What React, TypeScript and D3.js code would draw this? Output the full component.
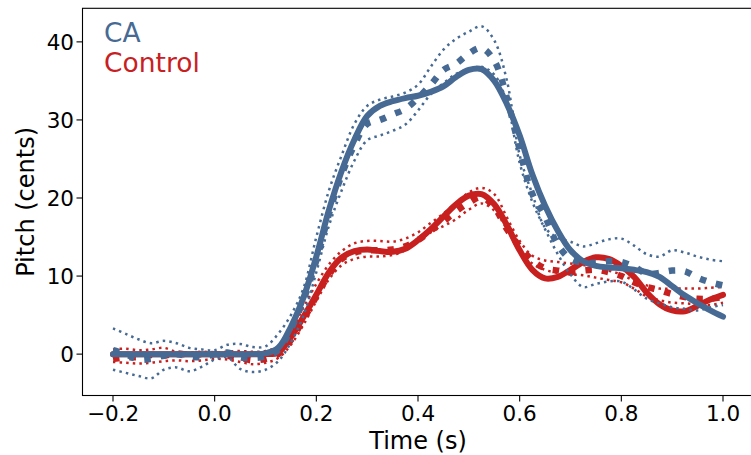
import React from "react";
import * as d3 from "d3";

const times = [
  -0.2, -0.175, -0.15, -0.125, -0.1, -0.075, -0.05, -0.025, 0, 0.025, 0.05, 0.075, 0.1, 0.125,
  0.15, 0.175, 0.2, 0.225, 0.25, 0.275, 0.3, 0.325, 0.35, 0.375, 0.4, 0.425, 0.45, 0.475, 0.5,
  0.525, 0.55, 0.575, 0.6, 0.625, 0.65, 0.675, 0.7, 0.725, 0.75, 0.775, 0.8, 0.825, 0.85, 0.875,
  0.9, 0.925, 0.95, 0.975, 1.0,
];

const caMean = [
  0, 0, 0, 0, 0, 0, 0, 0, 0, 0, 0, 0, 0.1, 0.8,
  3.5, 7.3, 12.5, 18.5, 23.5, 27.5, 30.5, 31.8, 32.4, 32.8, 33.1, 33.6, 34.3, 35.5, 36.4,
  36.5, 35.0, 32.0, 28.0, 23.0, 19.0, 15.8, 13.3, 11.9, 11.3, 11.1, 11.0, 10.8, 10.5, 9.9,
  8.7, 7.5, 6.5, 5.6, 4.8,
];

const caAlt = [
  0.5, 0, -0.7, -0.6, -0.2, 0, -0.3, -0.4, 0, 0.2, -0.4, -0.5, -0.3, 0.5,
  3.2, 7.0, 12.0, 18.0, 23.0, 26.8, 29.5, 30.0, 30.7, 31.4, 32.8, 34.5, 36.4, 37.2, 38.5,
  39.2, 37.6, 32.8, 26.2, 20.5, 17.6, 14.0, 12.2, 11.7, 11.7, 11.9, 11.8, 11.2, 10.3, 10.4,
  10.7, 10.6, 9.8, 9.2, 8.8,
];

const caHi = [
  3.3, 2.6, 1.9, 1.4, 1.7, 1.4, 0.8, 0.6, 0.5, 1.2, 1.3, 0.9, 1.0, 2.6,
  5.0, 8.5, 15.0, 21.0, 25.5, 29.5, 31.8, 32.6, 33.0, 33.5, 34.5, 36.8, 39.0, 40.4, 41.3,
  42.0, 40.2, 35.0, 25.5, 20.5, 16.2, 14.9, 14.4, 13.8, 14.2, 14.7, 14.8, 13.9, 12.8, 12.5,
  13.3, 13.0, 12.5, 12.1, 11.9,
];

const caLo = [
  -2.0, -2.4, -2.8, -3.1, -2.0, -1.7, -2.2, -1.6, -0.7, -0.4, -1.9, -2.3, -2.0, -0.9,
  1.5, 5.0, 10.5, 16.5, 21.0, 24.8, 27.4, 28.0, 28.6, 29.4, 31.2, 33.3, 34.7, 35.9, 36.5,
  36.8, 35.8, 32.2, 24.5, 19.5, 16.0, 12.8, 10.2, 8.6, 9.0, 9.3, 9.3, 8.3, 7.1, 6.5,
  6.0, 5.8, 5.6, 6.0, 6.3,
];

const ctrlMean = [
  0, 0, 0, 0, 0, 0, 0, 0, 0, 0, 0, 0, 0, 0.2,
  2.2, 4.8, 7.6, 10.5, 12.4, 13.2, 13.4, 13.2, 13.1, 13.5, 14.6, 16.0, 17.6, 19.2, 20.3,
  20.5, 19.2, 16.5, 13.3, 10.8, 9.7, 9.9, 10.8, 11.8, 12.4, 12.2, 11.3, 9.9, 7.9, 6.4,
  5.6, 5.5, 6.2, 7.0, 7.6,
];

const ctrlAlt = [
  -0.6, -0.4, -0.4, -0.1, -0.2, 0.1, -0.1, 0, 0, -0.2, -0.5, -0.8, -0.6, 0.0,
  1.8, 4.5, 7.4, 10.2, 12.2, 13.0, 13.3, 13.3, 13.4, 13.8, 14.6, 15.8, 17.0, 18.3, 19.4,
  20.1, 18.8, 16.0, 13.8, 12.0, 11.0, 10.7, 10.5, 10.7, 10.8, 10.5, 10.0, 9.2, 8.6, 8.2,
  7.7, 7.3, 7.1, 7.1, 7.3,
];

const ctrlHi = [
  0.6, 0.7, 0.5, 0.6, 0.8, 0.3, 0.2, 0.3, 0.2, 0.3, 0.4, 0.3, 0.4, 1.0,
  3.0, 6.0, 9.0, 11.5, 13.2, 14.2, 14.5, 14.5, 14.4, 14.8, 15.6, 16.8, 18.0, 19.4, 20.7,
  21.3, 20.5, 17.5, 14.5, 12.6, 12.0, 11.8, 11.6, 11.4, 11.2, 10.7, 10.2, 9.4, 8.8, 8.4,
  8.4, 8.4, 8.4, 8.5, 8.6,
];

const ctrlLo = [
  -1.0, -1.1, -1.2, -1.1, -0.9, -0.8, -0.9, -0.8, -0.6, -0.7, -1.0, -1.3, -1.1, -0.5,
  1.2, 3.8, 6.8, 9.6, 11.4, 12.2, 12.5, 12.5, 12.7, 13.3, 14.4, 15.6, 16.4, 17.3, 18.5,
  19.3, 18.4, 16.0, 13.2, 11.6, 10.8, 10.4, 10.2, 10.1, 9.8, 9.5, 9.2, 8.4, 7.4, 6.9,
  6.6, 6.5, 6.4, 6.3, 6.6,
];

const xTicks = [-0.2, 0.0, 0.2, 0.4, 0.6, 0.8, 1.0];
const yTicks = [0, 10, 20, 30, 40];
const legendLabels = ["CA", "Control"];

const BLUE = "#466a93";
const RED = "#c8201f";
const FONT = "DejaVu Sans, sans-serif";

const W = 751;
const H = 455;
const L = 82.5;
const R = 753.5;
const T = 8.3;
const B = 395.5;

export default function App() {
  const x = d3.scaleLinear().domain([-0.26, 1.06]).range([L, R]);
  const y = d3.scaleLinear().domain([-5.3, 44.3]).range([B, T]);

  const line = d3
    .line<number>()
    .x((_, i) => x(times[i]))
    .y((d) => y(d))
    .curve(d3.curveCatmullRom.alpha(0.5));

  const groups = [
    { color: RED, mean: ctrlMean, alt: ctrlAlt, hi: ctrlHi, lo: ctrlLo },
    { color: BLUE, mean: caMean, alt: caAlt, hi: caHi, lo: caLo },
  ];

  const fmt = (v: number) => (v < 0 ? "\u2212" + Math.abs(v).toFixed(1) : v.toFixed(1));

  return (
    <svg
      width={W}
      height={H}
      style={{ position: "absolute", left: 0, top: 0, background: "#fff" }}
      fontFamily={FONT}
    >
      <rect x={0} y={0} width={W} height={H} fill="#fff" />
      <defs>
        <clipPath id="plotclip">
          <rect x={L} y={T} width={R - L} height={B - T} />
        </clipPath>
      </defs>
      <g clipPath="url(#plotclip)">
        {groups.map((g, gi) => (
          <g key={gi}>
            <path d={line(g.lo) || ""} fill="none" stroke={g.color} strokeWidth={2.5} strokeDasharray="2.5,4.1" />
            <path d={line(g.hi) || ""} fill="none" stroke={g.color} strokeWidth={2.5} strokeDasharray="2.5,4.1" />
            <path d={line(g.alt) || ""} fill="none" stroke={g.color} strokeWidth={6.5} strokeDasharray="6.5,10" />
            <path d={line(g.mean) || ""} fill="none" stroke={g.color} strokeWidth={6} strokeLinecap="round" strokeLinejoin="round" />
          </g>
        ))}
      </g>

      {/* spines */}
      <rect x={L} y={T} width={R - L} height={B - T} fill="none" stroke="#000" strokeWidth={1.1} />

      {/* x axis */}
      {xTicks.map((t) => (
        <g key={"x" + t}>
          <line x1={x(t)} x2={x(t)} y1={B} y2={B + 6} stroke="#000" strokeWidth={1.1} />
          <text x={x(t)} y={421} fontSize={21.5} textAnchor="middle" fill="#000">
            {fmt(t)}
          </text>
        </g>
      ))}
      <text x={(L + R) / 2} y={448.5} fontSize={24} textAnchor="middle" fill="#000">
        Time (s)
      </text>

      {/* y axis */}
      {yTicks.map((t) => (
        <g key={"y" + t}>
          <line x1={L - 6} x2={L} y1={y(t)} y2={y(t)} stroke="#000" strokeWidth={1.1} />
          <text x={74} y={y(t)} dy="0.36em" fontSize={21.5} textAnchor="end" fill="#000">
            {t}
          </text>
        </g>
      ))}
      <text
        transform={`translate(33.6, ${(T + B) / 2}) rotate(-90)`}
        fontSize={24}
        textAnchor="middle"
        fill="#000"
      >
        Pitch (cents)
      </text>

      {/* legend */}
      <text x={104} y={42} fontSize={26.5} fill={BLUE}>
        {legendLabels[0]}
      </text>
      <text x={104} y={72} fontSize={26.5} fill={RED}>
        {legendLabels[1]}
      </text>
    </svg>
  );
}
